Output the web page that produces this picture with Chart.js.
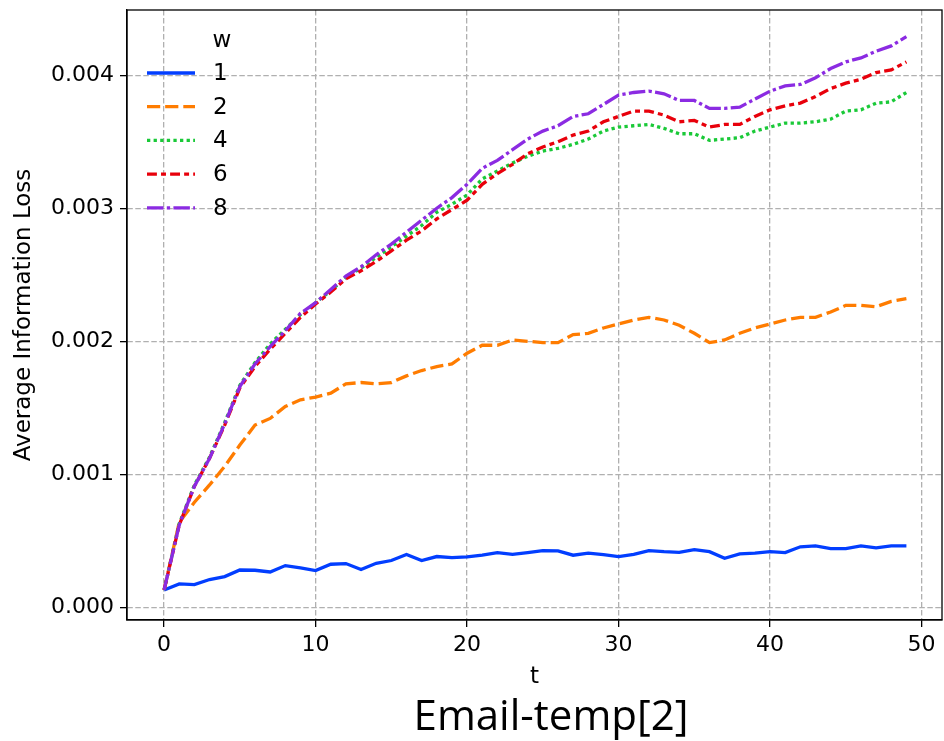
<!DOCTYPE html>
<html>
<head>
<meta charset="utf-8">
<title>Email-temp[2]</title>
<script src="https://cdn.jsdelivr.net/npm/chart.js@4"></script>
<style>
  html, body { margin: 0; padding: 0; background: #fff; }
  #chart { display: block; }
</style>
</head>
<body>
<canvas id="chart" width="944" height="741"></canvas>
<script>
// time steps
const tValues = [0,1,2,3,4,5,6,7,8,9,10,11,12,13,14,15,16,17,18,19,20,21,22,23,24,
  25,26,27,28,29,30,31,32,33,34,35,36,37,38,39,40,41,42,43,44,45,46,47,48,49];

// average information loss per window size w
const lossW1 = [0.000131,0.000176,0.000171,0.000209,0.000231,0.000281,0.000279,0.000266,0.000314,0.000296,
  0.000276,0.000324,0.000329,0.000284,0.000331,0.000352,0.000397,0.000352,0.000382,0.000374,
  0.000379,0.000392,0.000412,0.000399,0.000412,0.000426,0.000425,0.000392,0.000407,0.000397,
  0.000382,0.000399,0.000427,0.000419,0.000414,0.000434,0.000419,0.000369,0.000402,0.000407,
  0.000419,0.000412,0.000455,0.000462,0.000442,0.000442,0.000462,0.000447,0.000462,0.000462];
const lossW2 = [0.000131,0.00064,0.00079,0.00092,0.00106,0.00122,0.00137,0.00142,0.00151,0.00156,
  0.00158,0.00161,0.00168,0.00169,0.00168,0.00169,0.00174,0.00178,0.00181,0.00183,
  0.00191,0.00197,0.00197,0.00201,0.00200,0.00199,0.00199,0.00205,0.00206,0.00210,
  0.00213,0.00216,0.00218,0.00216,0.00212,0.00206,0.00199,0.00201,0.00206,0.00210,
  0.00213,0.00216,0.00218,0.00218,0.00222,0.00227,0.00227,0.00226,0.00230,0.00232];
const lossW4 = [0.000131,0.00063,0.00092,0.00113,0.00139,0.00167,0.00184,0.00198,0.00209,0.00220,
  0.00229,0.00238,0.00248,0.00255,0.00263,0.00271,0.00279,0.00287,0.00297,0.00303,
  0.00310,0.00322,0.00328,0.00334,0.00339,0.00343,0.00345,0.00348,0.00352,0.00358,
  0.00361,0.00362,0.00363,0.00360,0.00356,0.00356,0.00351,0.00352,0.00353,0.00358,
  0.00361,0.00364,0.00364,0.00365,0.00367,0.00373,0.00374,0.00379,0.00380,0.00387];
const lossW6 = [0.000131,0.00062,0.00091,0.00112,0.00137,0.00165,0.00181,0.00194,0.00206,0.00218,
  0.00228,0.00237,0.00247,0.00253,0.00260,0.00268,0.00276,0.00283,0.00292,0.00299,
  0.00306,0.00318,0.00326,0.00333,0.00341,0.00346,0.00350,0.00355,0.00358,0.00365,
  0.00369,0.00373,0.00373,0.00370,0.00365,0.00366,0.00361,0.00363,0.00363,0.00369,
  0.00374,0.00377,0.00379,0.00384,0.00390,0.00394,0.00397,0.00402,0.00404,0.00410];
const lossW8 = [0.000131,0.00062,0.00091,0.00112,0.00138,0.00166,0.00183,0.00196,0.00208,0.00221,
  0.00229,0.00239,0.00249,0.00256,0.00265,0.00273,0.00282,0.00291,0.00300,0.00308,
  0.00318,0.00330,0.00336,0.00344,0.00352,0.00358,0.00362,0.00369,0.00371,0.00378,
  0.00385,0.00387,0.00388,0.00386,0.00381,0.00381,0.00375,0.00375,0.00376,0.00382,
  0.00388,0.00392,0.00393,0.00398,0.00405,0.00410,0.00413,0.00418,0.00422,0.00429];

const seriesLabels = ['1', '2', '4', '6', '8'];
const seriesValues = [lossW1, lossW2, lossW4, lossW6, lossW8];
const seriesColors = ['#023eff', '#ff7c00', '#1ac938', '#e8000b', '#8b2be2'];

const xTicks = [0, 10, 20, 30, 40, 50];
const yTicks = [0, 0.001, 0.002, 0.003, 0.004];

const LW = 3.3;
// seaborn style dashes, in units of line width
const dashUnits = [[], [4, 1.5], [1, 1], [3, 1.25, 1.5, 1.25], [5, 1, 1, 1]];

const FONT = '"DejaVu Sans", sans-serif';

const datasets = seriesValues.map((vals, i) => ({
    label: seriesLabels[i],
    data: tValues.map((t, j) => ({ x: t, y: vals[j] })),
    borderColor: seriesColors[i],
    backgroundColor: seriesColors[i],
    borderWidth: LW,
    borderDash: dashUnits[i].map(d => d * LW),
    borderCapStyle: 'butt',
    pointRadius: 0,
    tension: 0,
    fill: false,
    order: seriesValues.length - i
}));

const decorations = {
    id: 'decorations',
    afterDraw(chart) {
        const { ctx, chartArea: a } = chart;
        ctx.save();

        // full axes frame
        ctx.strokeStyle = '#000';
        ctx.lineWidth = 1.3;
        ctx.setLineDash([]);
        ctx.strokeRect(a.left, a.top, a.right - a.left, a.bottom - a.top);

        ctx.fillStyle = '#000';
        ctx.textAlign = 'center';
        ctx.textBaseline = 'middle';

        // x axis title
        ctx.font = '23px ' + FONT;
        ctx.fillText('t', (a.left + a.right) / 2, 677);

        // y axis title
        ctx.save();
        ctx.translate(24, (a.top + a.bottom) / 2);
        ctx.rotate(-Math.PI / 2);
        ctx.fillText('Average Information Loss', 0, 0);
        ctx.restore();

        // figure caption
        ctx.font = '42px "Open Sans", sans-serif';
        ctx.textBaseline = 'alphabetic';
        ctx.fillText('Email-temp[2]', 551, 730);

        // legend
        ctx.font = '23px ' + FONT;
        ctx.textBaseline = 'middle';
        ctx.fillText('w', 222, 41);
        ctx.textAlign = 'left';
        chart.data.datasets.forEach((ds, i) => {
            const y = 73 + i * 33.7;
            ctx.strokeStyle = ds.borderColor;
            ctx.lineWidth = ds.borderWidth;
            ctx.lineCap = 'butt';
            ctx.setLineDash(ds.borderDash);
            ctx.beginPath();
            ctx.moveTo(147, y);
            ctx.lineTo(195, y);
            ctx.stroke();
            ctx.fillText(ds.label, 213, y + 1);
        });

        ctx.restore();
    }
};

const gridOpts = {
    color: '#b0b0b0',
    lineWidth: 1.3,
    drawTicks: true,
    tickLength: 7,
    tickColor: '#000',
    tickWidth: 1.3,
    tickBorderDash: []
};
const borderOpts = {
    display: true,
    color: '#000',
    width: 1.3,
    dash: [5.5, 2.5]
};

new Chart(document.getElementById('chart'), {
    type: 'line',
    data: { datasets: datasets },
    options: {
        responsive: false,
        animation: false,
        devicePixelRatio: 1,
        layout: { padding: { top: 10, right: 2, left: 0, bottom: 0 } },
        plugins: {
            legend: { display: false },
            tooltip: { enabled: false },
            title: { display: false }
        },
        scales: {
            x: {
                type: 'linear',
                min: -2.45,
                max: 51.35,
                afterBuildTicks: scale => { scale.ticks = xTicks.map(v => ({ value: v })); },
                afterFit: scale => {
                    scale.height = 121;
                    scale.paddingLeft = 0;
                    scale.paddingRight = 0;
                },
                ticks: {
                    autoSkip: false,
                    maxRotation: 0,
                    padding: 5,
                    color: '#000',
                    font: { family: FONT, size: 22 }
                },
                grid: gridOpts,
                border: borderOpts
            },
            y: {
                type: 'linear',
                min: -0.000095,
                max: 0.00449,
                afterBuildTicks: scale => { scale.ticks = yTicks.map(v => ({ value: v })); },
                afterFit: scale => {
                    scale.width = 127;
                    scale.paddingTop = 0;
                    scale.paddingBottom = 0;
                },
                ticks: {
                    autoSkip: false,
                    padding: 6,
                    color: '#000',
                    font: { family: FONT, size: 22 },
                    callback: v => v.toFixed(3)
                },
                grid: gridOpts,
                border: borderOpts
            }
        }
    },
    plugins: [decorations]
});
</script>
</body>
</html>
